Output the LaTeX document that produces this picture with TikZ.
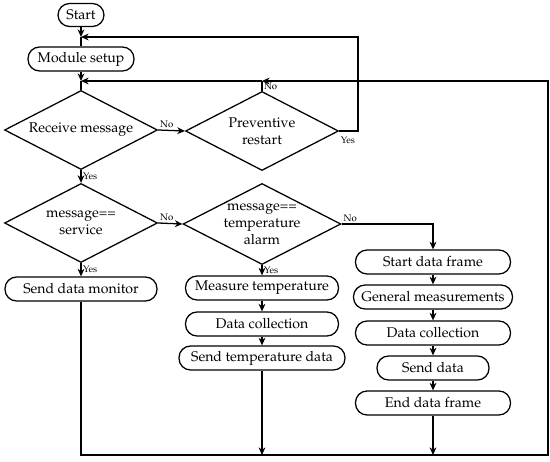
\documentclass[tikz,border=0pt]{standalone}
\usepackage[T1]{fontenc}
\usepackage{mathpazo}
\usetikzlibrary{arrows.meta, positioning, calc, shapes.geometric}
\tikzset{
  block/.style={draw, rounded corners=2.9mm, minimum height=0.6cm, align=center, inner sep=1pt, line width=0.9pt},
  decision/.style={draw, diamond, aspect=2, inner sep=0pt, minimum width=3.825cm, minimum height=1.975cm, align=center, line width=0.9pt},
  link/.style={-{Stealth[length=1.9mm, width=1.7mm, inset=0.6mm]}, line width=0.9pt},
  wire/.style={line width=0.9pt},
  tag/.style={font=\fontsize{6.8pt}{8pt}\selectfont, inner sep=1pt}
}

\begin{document}
\begin{tikzpicture}
        \useasboundingbox (0,0) rectangle (13.75,-11.525);

        % Start and setup
        \node[block, minimum width=1.15cm, minimum height=0.575cm] (start) at (2.025,-0.375) {Start};
        \node[block, minimum width=2.65cm] (setup) at (2.025,-1.475) {Module setup};

        % Decisions
        \node[decision] (receive) at (2.025,-3.25)  {Receive message};
        \node[decision] (restart) at (6.55,-3.275)  {Preventive\\restart};
        \node[decision] (service) at (2.025,-5.575) {message==\\service};
        \node[decision, minimum height=2.025cm] (alarm) at (6.55,-5.6) {message==\\temperature\\alarm};

        % Service and alarm branches
        \node[block, minimum width=3.8cm]   (monitor)  at (2.025,-7.225) {Send data monitor};
        \node[block, minimum width=3.825cm] (measure)  at (6.55,-7.2)    {Measure temperature};
        \node[block, minimum width=3.825cm] (collectT) at (6.55,-8.1)    {Data collection};
        \node[block, minimum width=4.15cm]  (sendT)    at (6.55,-8.95)   {Send temperature data};

        % Data frame branch
        \node[block, minimum width=3.875cm] (frameS)  at (10.825,-6.55)  {Start data frame};
        \node[block, minimum width=3.975cm] (general) at (10.825,-7.425) {General measurements};
        \node[block, minimum width=3.875cm] (collect) at (10.825,-8.325) {Data collection};
        \node[block, minimum width=2.8cm]   (send)    at (10.825,-9.2)   {Send data};
        \node[block, minimum width=3.875cm] (frameE)  at (10.825,-10.075) {End data frame};

        % Junctions
        \coordinate (j1) at (2.025,-0.925);
        \coordinate (j2) at (2.025,-2.025);
        \coordinate (j3) at (6.55,-2.025);
        \coordinate (yesTop) at (8.95,-0.925);
        \coordinate (loopR) at (13.7,-2.025);
        \coordinate (bottomR) at (13.7,-11.375);

        % Links
        \draw[link] (start) -- (j1);
        \draw[wire] (j1) -- (setup);
        \draw[link] (setup) -- (j2);
        \draw[wire] (j2) -- (receive);

        \draw[link] (receive.east) -- node[tag, pos=0, anchor=south west] (noA) {No} (restart.west);
        \draw[link] (receive.south) -- node[tag, right] (yesA) {Yes} (service.north);
        \draw[link] (restart.east) -| (yesTop) -- (j1);
        \node[tag, anchor=north west, yshift=-0.1cm] (yesB) at (restart.east) {Yes};
        \draw[wire] (restart.north) -- node[tag, right] (noB) {No} (j3);

        \draw[link] (service.east) -- node[tag, pos=0, anchor=south west] (noC) {No} (alarm.west);
        \draw[link] (service.south) -- node[tag, right] (yesC) {Yes} (monitor.north);
        \draw[link] (alarm.east) -| node[tag, pos=0, anchor=south west] (noD) {No} (frameS.north);
        \draw[link] (alarm.south) -- node[tag, right] (yesD) {Yes} (measure.north);

        \draw[link] (measure) -- (collectT);
        \draw[link] (collectT) -- (sendT);
        \draw[link] (sendT.south) -- (sendT |- bottomR);

        \draw[link] (frameS) -- (general);
        \draw[link] (general) -- (collect);
        \draw[link] (collect) -- (send);
        \draw[link] (send) -- (frameE);
        \draw[link] (frameE.south) -- (frameE |- bottomR);

        % Back to receive
        \draw[link] (monitor.south) |- (bottomR) -- (loopR) -- (j3);
        \draw[link] (j3) -- (j2);
    \end{tikzpicture}
\end{document}
